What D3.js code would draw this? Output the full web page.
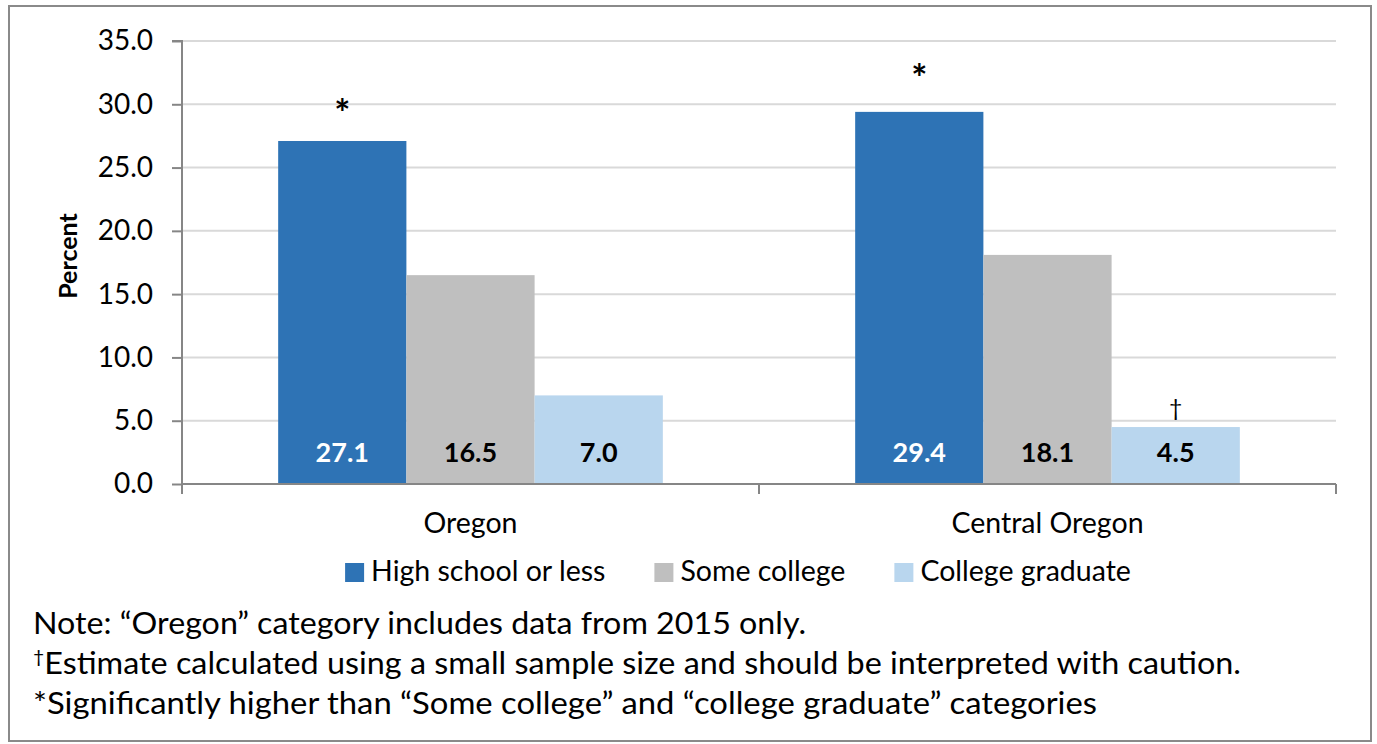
<!DOCTYPE html>
<html>
<head>
<meta charset="utf-8">
<script src="https://cdn.jsdelivr.net/npm/d3@7"></script>
<style>
  html, body { margin: 0; padding: 0; background: #fff; }
  svg { display: block; font-family: Lato, "Open Sans", sans-serif; }
</style>
</head>
<body>
<div id="chart"></div>
<script>
/* chart data */
const categories = ['Oregon', 'Central Oregon'];
const seriesNames = ['High school or less', 'Some college', 'College graduate'];
const highSchool = [27.1, 29.4];
const someCollege = [16.5, 18.1];
const collegeGrad = [7.0, 4.5];
const yTicks = [0, 5, 10, 15, 20, 25, 30, 35];
// significance markers, placed at a value on the y axis above the bar
const markerCategory = ['Oregon', 'Central Oregon', 'Central Oregon'];
const markerSeries = ['High school or less', 'High school or less', 'College graduate'];
const markerSymbol = ['*', '*', '\u2020'];
const markerValue = [30.1, 32.8, 6.1];
const noteSup = ['', '\u2020', ''];
const noteText = [
  'Note: \u201COregon\u201D category includes data from 2015 only.',
  'Estimate calculated using a small sample size and should be interpreted with caution.',
  '*Significantly higher than \u201CSome college\u201D and \u201Ccollege graduate\u201D categories'
];

const width = 1377;
const height = 744;
const margin = { top: 41, right: 41, bottom: 260, left: 182 };
const colors = ['#2E73B5', '#BFBFBF', '#B9D6EE'];
const labelColors = ['#fff', '#000', '#000'];
// widths the note lines take up in the source (Calibri is set wider than Lato)
const noteWidths = [773, 1208, 1064];
const seriesValues = [highSchool, someCollege, collegeGrad];

const data = categories.map((c, i) => ({
  category: c,
  values: seriesNames.map((s, j) => ({ category: c, series: s, value: seriesValues[j][i], idx: j }))
}));

const svg = d3.select('#chart').append('svg')
  .attr('width', width)
  .attr('height', height);

// outer frame
svg.append('rect')
  .attr('x', 9).attr('y', 6)
  .attr('width', 1362).attr('height', 735)
  .attr('fill', 'none')
  .attr('stroke', '#8a8a8a')
  .attr('stroke-width', 2);

const x0 = d3.scaleBand()
  .domain(categories)
  .range([margin.left, width - margin.right]);

const x1 = d3.scaleBand()
  .domain(seriesNames)
  .range([0, x0.bandwidth()])
  .paddingInner(0)
  .paddingOuter(0.75);

const y = d3.scaleLinear()
  .domain([0, 35])
  .range([484, margin.top]);

const plotRight = x0.range()[1];

// gridlines
svg.append('g')
  .selectAll('line')
  .data(yTicks.filter(d => d > 0))
  .join('line')
  .attr('x1', margin.left).attr('x2', plotRight)
  .attr('y1', d => y(d)).attr('y2', d => y(d))
  .attr('stroke', '#d9d9d9')
  .attr('stroke-width', 2);

// y axis
const yAxis = svg.append('g')
  .attr('transform', `translate(${margin.left},0)`)
  .call(d3.axisLeft(y).tickValues(yTicks).tickFormat(d3.format('.1f')).tickSize(10).tickPadding(19));
yAxis.select('.domain').attr('stroke', '#868686').attr('stroke-width', 2)
  .attr('d', `M-10,${y(35)}H0V${y(0) + 10}`);
yAxis.selectAll('.tick line').attr('stroke', '#868686').attr('stroke-width', 2);
yAxis.selectAll('.tick text')
  .attr('font-size', 28)
  .attr('fill', '#000')
  .attr('font-family', 'Lato, sans-serif');

// y axis title
svg.append('text')
  .attr('transform', `translate(68, 256) rotate(-90)`)
  .attr('text-anchor', 'middle')
  .attr('dy', '0.35em')
  .attr('font-size', 25)
  .attr('font-weight', 700)
  .text('Percent');

// bars
const groups = svg.append('g')
  .selectAll('g')
  .data(data)
  .join('g')
  .attr('transform', d => `translate(${x0(d.category)},0)`);

groups.selectAll('rect')
  .data(d => d.values)
  .join('rect')
  .attr('x', d => x1(d.series))
  .attr('width', x1.bandwidth())
  .attr('y', d => y(d.value))
  .attr('height', d => y(0) - y(d.value))
  .attr('fill', d => colors[d.idx]);

// value labels inside the base of each bar
groups.selectAll('text.val')
  .data(d => d.values)
  .join('text')
  .attr('class', 'val')
  .attr('x', d => x1(d.series) + x1.bandwidth() / 2)
  .attr('y', y(0) - 31)
  .attr('dy', '0.35em')
  .attr('text-anchor', 'middle')
  .attr('font-size', 27)
  .attr('font-weight', 700)
  .attr('fill', d => labelColors[d.idx])
  .text(d => d3.format('.1f')(d.value));

// x axis
const xAxisG = svg.append('g');
xAxisG.append('line')
  .attr('x1', margin.left).attr('x2', plotRight)
  .attr('y1', y(0)).attr('y2', y(0))
  .attr('stroke', '#868686').attr('stroke-width', 2);
xAxisG.selectAll('line.tick')
  .data(categories.concat(['end']))
  .join('line')
  .attr('class', 'tick')
  .attr('x1', d => d === 'end' ? plotRight : x0(d))
  .attr('x2', d => d === 'end' ? plotRight : x0(d))
  .attr('y1', y(0)).attr('y2', y(0) + 10)
  .attr('stroke', '#868686').attr('stroke-width', 2);
xAxisG.selectAll('text')
  .data(categories)
  .join('text')
  .attr('x', d => x0(d) + x0.bandwidth() / 2)
  .attr('y', 523)
  .attr('dy', '0.35em')
  .attr('text-anchor', 'middle')
  .attr('font-size', 28.5)
  .text(d => d);

// significance markers
svg.append('g')
  .selectAll('text')
  .data(markerSymbol.map((s, i) => ({ s, c: markerCategory[i], series: markerSeries[i], v: markerValue[i] })))
  .join('text')
  .attr('x', d => x0(d.c) + x1(d.series) + x1.bandwidth() / 2)
  .attr('y', d => y(d.v))
  .attr('dy', d => d.s === '*' ? '0.62em' : '0.38em')
  .attr('text-anchor', 'middle')
  .attr('font-size', d => d.s === '*' ? 38 : 23)
  .attr('font-weight', d => d.s === '*' ? 700 : 400)
  .text(d => d.s);

// legend
const legend = svg.append('g');
const items = legend.selectAll('g')
  .data(seriesNames)
  .join('g');
items.append('rect')
  .attr('width', 19).attr('height', 19)
  .attr('y', -8)
  .attr('fill', (d, i) => colors[i]);
items.append('text')
  .attr('x', 26)
  .attr('dy', '0.35em')
  .attr('font-size', 28.5)
  .text(d => d);
let lx = 0;
const offsets = [];
items.each(function () {
  offsets.push(lx);
  lx += this.getBBox().width + 49;
});
const legendWidth = lx - 49;
const legendStart = 738 - legendWidth / 2;
items.attr('transform', (d, i) => `translate(${legendStart + offsets[i]}, 571)`);

// notes
const notesG = svg.append('g');
noteText.forEach((line, i) => {
  const t = notesG.append('text')
    .attr('x', 33)
    .attr('y', 623 + i * 40)
    .attr('dy', '0.35em')
    .attr('font-size', 30)
    .attr('textLength', noteWidths[i])
    .attr('lengthAdjust', 'spacingAndGlyphs');
  if (noteSup[i]) {
    t.append('tspan').attr('font-size', 18).attr('baseline-shift', '60%').text(noteSup[i]);
  }
  t.append('tspan').text(line);
});
</script>
</body>
</html>
